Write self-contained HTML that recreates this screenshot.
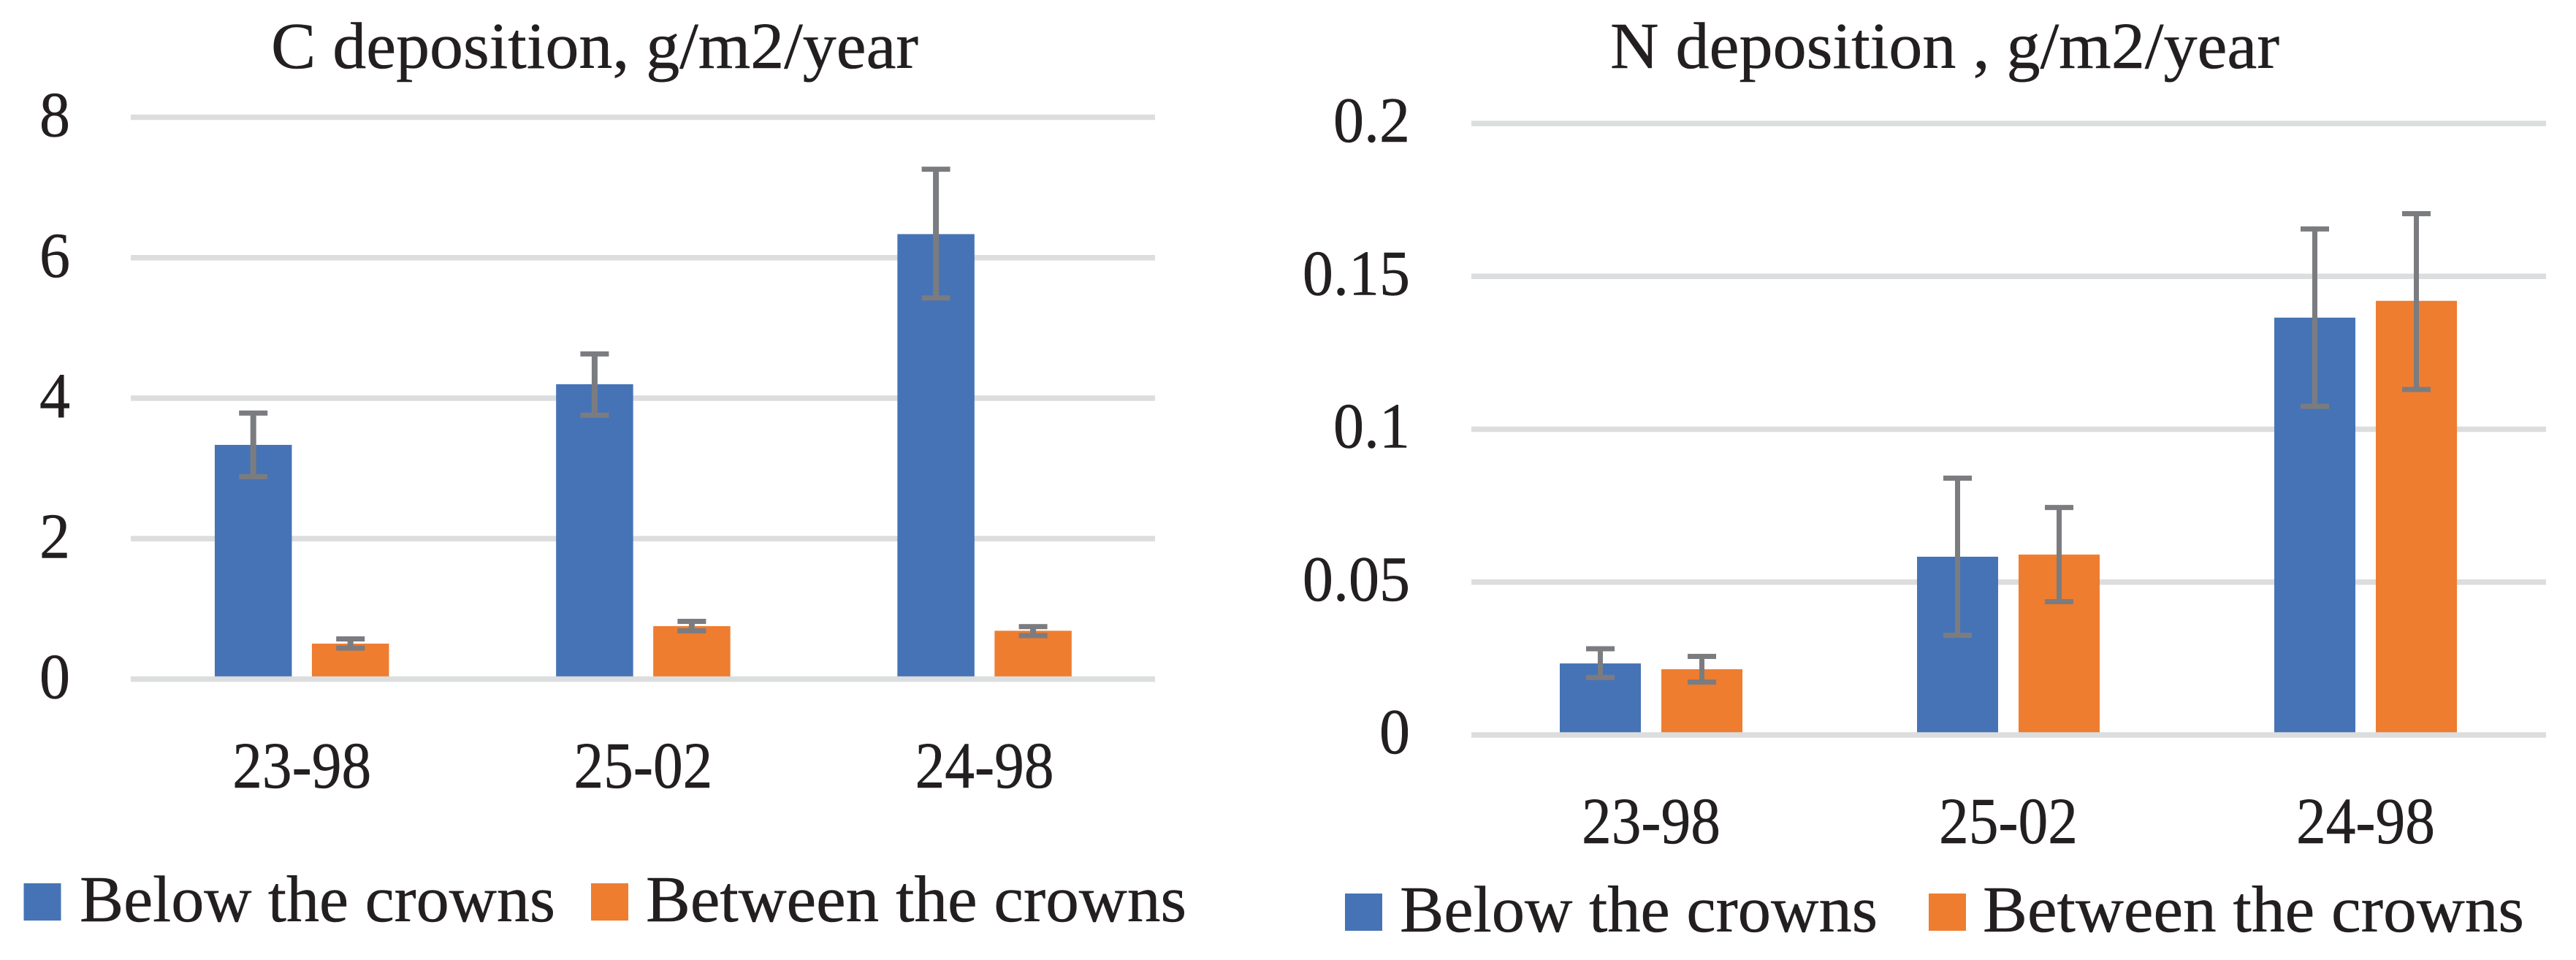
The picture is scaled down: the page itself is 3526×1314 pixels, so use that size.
<!DOCTYPE html>
<html lang="en">
<head>
<meta charset="utf-8">
<title>C and N deposition charts</title>
<style>
  html, body { margin: 0; padding: 0; background: #ffffff; }
  #figure { display: block; width: 3526px; height: 1314px; }
  text { font-family: "Liberation Serif", serif; fill: #231f20; stroke: #231f20; stroke-width: 0.5px; }
</style>
</head>
<body>
<svg id="figure" xmlns="http://www.w3.org/2000/svg" width="3526" height="1314" viewBox="0 0 3526 1314">
  <rect x="0" y="0" width="3526" height="1314" fill="#ffffff"/>

  <g id="chart-c">
    <text x="371" y="93" font-size="90" textLength="886" lengthAdjust="spacingAndGlyphs">C deposition, g/m2/year</text>
    <rect x="32.5" y="1209" width="51" height="51" fill="#4673b5"/>
    <text x="109" y="1261" font-size="90" textLength="651" lengthAdjust="spacingAndGlyphs">Below the crowns</text>
    <rect x="809" y="1209" width="51" height="51" fill="#ee7d30"/>
    <text x="884" y="1261" font-size="90" textLength="740" lengthAdjust="spacingAndGlyphs">Between the crowns</text>
  </g>

  <g id="chart-n">
    <text x="2204" y="93" font-size="90" textLength="916" lengthAdjust="spacingAndGlyphs">N deposition , g/m2/year</text>
    <rect x="1841" y="1223" width="51" height="51" fill="#4673b5"/>
    <text x="1916" y="1275" font-size="90" textLength="654" lengthAdjust="spacingAndGlyphs">Below the crowns</text>
    <rect x="2640" y="1223" width="51" height="51" fill="#ee7d30"/>
    <text x="2714" y="1275" font-size="90" textLength="741" lengthAdjust="spacingAndGlyphs">Between the crowns</text>
  </g>
</svg>

<script>
const categories = ['23-98', '25-02', '24-98'];

const cTicks = [0, 2, 4, 6, 8];
const cTickLabels = ['0', '2', '4', '6', '8'];
const cBelow = [3.335, 4.199, 6.336];
const cBelowHigh = [3.788, 4.63, 7.26];
const cBelowLow = [2.882, 3.757, 5.427];
const cBetween = [0.505, 0.754, 0.688];
const cBetweenHigh = [0.572, 0.822, 0.747];
const cBetweenLow = [0.442, 0.687, 0.619];

const nTicks = [0, 0.05, 0.1, 0.15, 0.2];
const nTickLabels = ['0', '0.05', '0.1', '0.15', '0.2'];
const nBelow = [0.0234, 0.0583, 0.1365];
const nBelowHigh = [0.0282, 0.084, 0.1655];
const nBelowLow = [0.0188, 0.0326, 0.1075];
const nBetween = [0.0215, 0.059, 0.142];
const nBetweenHigh = [0.0257, 0.0744, 0.1705];
const nBetweenLow = [0.0173, 0.0436, 0.113];

const SVG_NS = 'http://www.w3.org/2000/svg';
const BLUE = '#4673b5';
const ORANGE = '#ee7d30';
const GRID = '#dcddde';
const ERR = '#7b7c80';

function shape(parent, tag, props) {
  const el = document.createElementNS(SVG_NS, tag);
  for (const key in props) {
    el.setAttribute(key, props[key]);
  }
  parent.appendChild(el);
  return el;
}

function drawChart(groupId, prefix, layout, ticks, tickLabels, below, belowHigh, belowLow, between, betweenHigh, betweenLow) {
  const group = document.getElementById(groupId);
  const maxValue = ticks[ticks.length - 1];
  const yScale = function (v) {
    return layout.yZero + (layout.yMax - layout.yZero) * (v / maxValue);
  };
  const xBand = function (i) {
    return layout.bandStart + layout.bandStep * (i + 0.5);
  };

  const drawGrid = function (i) {
    const line = shape(group, 'rect', {
      x: layout.gridLeft,
      y: yScale(ticks[i]) - layout.gridThickness / 2,
      width: layout.gridRight - layout.gridLeft,
      height: layout.gridThickness,
      fill: GRID
    });
    
    
  };

  ticks.forEach(function (t, i) {
    if (t !== 0) {
      drawGrid(i);
    }
    const label = shape(group, 'text', {
      x: layout.tickRight,
      y: yScale(t) + layout.tickBaseline,
      'font-size': 88,
      'text-anchor': 'end'
    });
    label.textContent = tickLabels[i];
    label.setAttribute('textLength', label.getComputedTextLength() * 0.955);
    label.setAttribute('lengthAdjust', 'spacingAndGlyphs');
    
    
  });

  const drawSeries = function (seriesName, color, offset, values) {
    values.forEach(function (v, i) {
      const cx = xBand(i) + offset;
      const bar = shape(group, 'rect', {
        x: cx - layout.barWidth / 2,
        y: yScale(v),
        width: layout.barWidth,
        height: yScale(0) - yScale(v),
        fill: color
      });
      
      
    });
  };

  const drawErrors = function (seriesName, offset, highs, lows) {
    highs.forEach(function (high, i) {
      const cx = xBand(i) + offset;
      const low = lows[i];
      const stem = shape(group, 'rect', {
        x: cx - layout.stemWidth / 2,
        y: yScale(high),
        width: layout.stemWidth,
        height: yScale(low) - yScale(high),
        fill: ERR
      });
      
      

      const capHigh = shape(group, 'rect', {
        x: cx - 19.5,
        y: yScale(high) - 3.5,
        width: 39,
        height: 7,
        fill: ERR
      });
      
      

      const capLow = shape(group, 'rect', {
        x: cx - 19.5,
        y: yScale(low) - 3.5,
        width: 39,
        height: 7,
        fill: ERR
      });
      
      
    });
  };

  const offset = (layout.barWidth + layout.barGap) / 2;
  drawSeries('below', BLUE, -offset, below);
  drawSeries('between', ORANGE, offset, between);

  ticks.forEach(function (t, i) {
    if (t === 0) {
      drawGrid(i);
    }
  });

  drawErrors('below', -offset, belowHigh, belowLow);
  drawErrors('between', offset, betweenHigh, betweenLow);

  categories.forEach(function (c, i) {
    const label = shape(group, 'text', {
      x: xBand(i),
      y: layout.categoryBaseline,
      'font-size': 90,
      'text-anchor': 'middle',
      textLength: 190,
      lengthAdjust: 'spacingAndGlyphs'
    });
    label.textContent = c;
    
    
  });
}

drawChart('chart-c', 'c', {
  yZero: 929.5, yMax: 160.5,
  gridLeft: 179, gridRight: 1581, gridThickness: 7.5,
  bandStart: 179.6, bandStep: 467.2,
  barWidth: 105.5, barGap: 27.5, stemWidth: 8,
  tickRight: 96, tickBaseline: 26,
  categoryBaseline: 1078
}, cTicks, cTickLabels, cBelow, cBelowHigh, cBelowLow, cBetween, cBetweenHigh, cBetweenLow);

drawChart('chart-n', 'n', {
  yZero: 1006, yMax: 169,
  gridLeft: 2014, gridRight: 3485, gridThickness: 7.5,
  bandStart: 2015.5, bandStep: 489,
  barWidth: 111, barGap: 28, stemWidth: 7,
  tickRight: 1930, tickBaseline: 25,
  categoryBaseline: 1154
}, nTicks, nTickLabels, nBelow, nBelowHigh, nBelowLow, nBetween, nBetweenHigh, nBetweenLow);
</script>
</body>
</html>
